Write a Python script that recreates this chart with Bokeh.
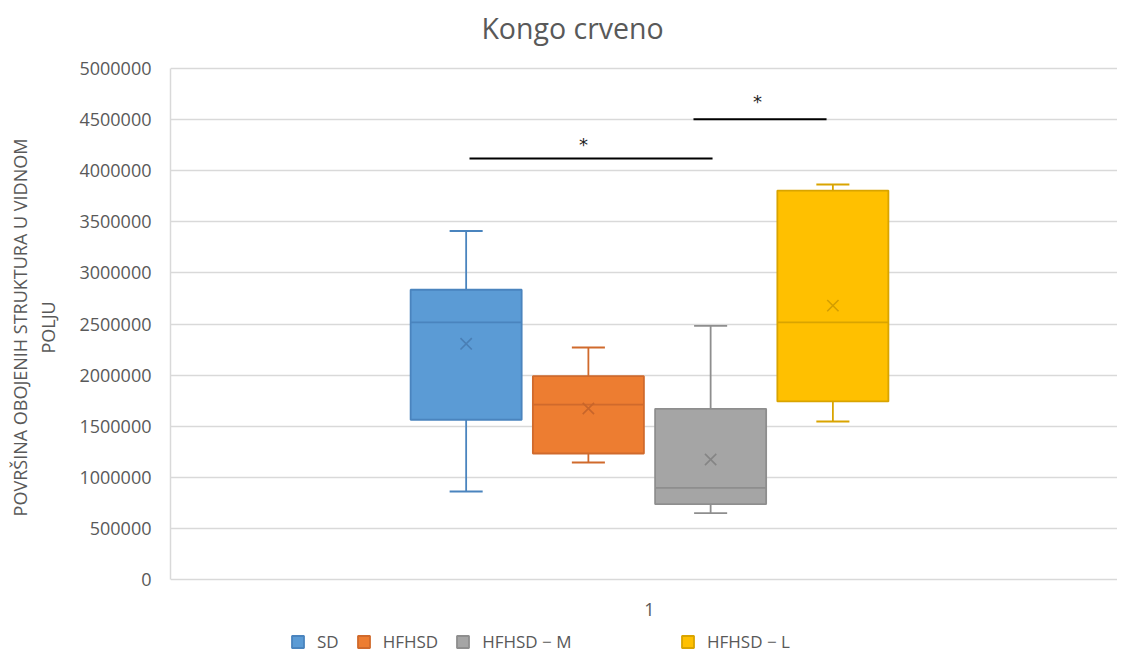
from bokeh.plotting import figure
from bokeh.models import (Range1d, FixedTicker, BasicTickFormatter, Legend,
                          LegendItem, ColumnDataSource)
from bokeh.embed import file_html
from bokeh.resources import INLINE
from bokeh.core.properties import value

# ---- data ----
title_text = ["Kongo crveno"]
groups = ["SD", "HFHSD", "HFHSD − M", "HFHSD − L"]
whisker_low = [861000, 1145000, 649000, 1546000]
q1 = [1563000, 1233000, 737000, 1742000]
median = [2515000, 1712000, 897000, 2515000]
q3 = [2835000, 1989000, 1670000, 3806000]
whisker_high = [3410000, 2270000, 2482000, 3865000]
mean = [2306000, 1673000, 1174000, 2680000]
category = ["1"]
y_ticks = [0, 500000, 1000000, 1500000, 2000000, 2500000, 3000000,
           3500000, 4000000, 4500000, 5000000]

# significance brackets and their stars
bracket_x0 = [0.8121, 1.0459]
bracket_x1 = [1.0658, 1.1848]
bracket_y = [4120000, 4504000]
star_x = [0.9311, 1.1127]
star_y = [4149000, 4570000]
star_text = ["*", "*"]

fill_colors = ["#5B9BD5", "#ED7D31", "#A5A5A5", "#FFC000"]
line_colors = ["#4A84BE", "#D06A2C", "#8E8E8E", "#D9A400"]
mean_colors = ["#4A7FB5", "#C8652A", "#858585", "#D39E00"]

FONT = "Open Sans"
GREY = "#595959"

# ---- layout constants (pixels) ----
W, H = 1117, 654
TOP, LEFT = 68, 170                # pixel row of the 5 000 000 line, left of the plot
ZERO_PX = 579                      # pixel row of value 0
px_per_val = (ZERO_PX - TOP) / y_ticks[-1]
y_min = -(H - ZERO_PX) / px_per_val
y_max = y_ticks[-1] + TOP / px_per_val
label_y = -29.5 / px_per_val       # category label just below the plot
title_y = y_ticks[-1] + (TOP - 27) / px_per_val
title_x = 0.5 + (572 - LEFT) / 958

box_w = 0.1159
cap_w = 0.0345
step = 0.1276
xc = [1 + (i - 1.5) * step for i in range(len(groups))]

src = ColumnDataSource(dict(
    x=xc, low=whisker_low, q1=q1, med=median, q3=q3, high=whisker_high,
    mean=mean, fill=fill_colors, line=line_colors, mcol=mean_colors,
    xl=[x - box_w / 2 for x in xc], xr=[x + box_w / 2 for x in xc],
    cl=[x - cap_w / 2 for x in xc], cr=[x + cap_w / 2 for x in xc],
))

p = figure(width=W, height=H, output_backend="svg", toolbar_location=None,
           x_range=Range1d(0.5, 1.4885), y_range=Range1d(y_min, y_max),
           x_axis_location=None,
           min_border_left=LEFT, min_border_right=0, min_border_top=0,
           min_border_bottom=0)
p.outline_line_color = None
p.background_fill_color = "white"
p.border_fill_color = "white"

# title (drawn as text at the top of the canvas)
p.text(x=[title_x], y=[title_y], text=title_text, text_align="center",
       text_baseline="alphabetic", text_font=value(FONT),
       text_font_size="28.5px", text_color=GREY)

# grid
p.xgrid.visible = False
p.ygrid.grid_line_color = "#D9D9D9"
p.ygrid.grid_line_width = 1.5

# y axis
p.yaxis.ticker = FixedTicker(ticks=y_ticks)
p.yaxis.bounds = (y_ticks[0], y_ticks[-1])
p.yaxis.formatter = BasicTickFormatter(use_scientific=False)
p.yaxis.axis_line_color = "#D9D9D9"
p.yaxis.axis_line_width = 1.5
p.yaxis.major_tick_line_color = None
p.yaxis.minor_tick_line_color = None
p.yaxis.major_label_text_font = FONT
p.yaxis.major_label_text_font_size = "18px"
p.yaxis.major_label_text_color = GREY
p.yaxis.major_label_standoff = 13
p.yaxis.axis_label = "POVRŠINA OBOJENIH STRUKTURA U VIDNOM\nPOLJU"
p.yaxis.axis_label_text_font = FONT
p.yaxis.axis_label_text_font_size = "18px"
p.yaxis.axis_label_text_font_style = "normal"
p.yaxis.axis_label_text_color = GREY
p.yaxis.axis_label_standoff = 16

# category label
p.text(x=[1.0], y=[label_y], text=category, text_align="center",
       text_baseline="middle", text_font=value(FONT), text_font_size="18px",
       text_color=GREY)

# whiskers
p.segment(x0="x", y0="q3", x1="x", y1="high", source=src, line_color="line", line_width=1.8)
p.segment(x0="x", y0="low", x1="x", y1="q1", source=src, line_color="line", line_width=1.8)
p.segment(x0="cl", y0="high", x1="cr", y1="high", source=src, line_color="line", line_width=1.8)
p.segment(x0="cl", y0="low", x1="cr", y1="low", source=src, line_color="line", line_width=1.8)

# boxes
boxes = p.vbar(x="x", width=box_w, bottom="q1", top="q3", source=src,
               fill_color="fill", line_color="line", line_width=1.8)
# median
p.segment(x0="xl", y0="med", x1="xr", y1="med", source=src, line_color="line", line_width=1.8)
# mean
p.scatter(x="x", y="mean", source=src, marker="x", size=16, line_color="mcol", line_width=1.6)

# significance
p.segment(x0=bracket_x0, y0=bracket_y, x1=bracket_x1, y1=bracket_y,
          line_color="black", line_width=2)
p.text(x=star_x, y=star_y, text=star_text, text_align="center",
       text_baseline="bottom", text_font=value("DejaVu Sans"),
       text_font_size="18px", text_color="#222222")

# legends
common = dict(orientation="horizontal", border_line_color=None,
              background_fill_alpha=0, padding=0, margin=0,
              glyph_width=15, glyph_height=15, label_height=15, label_width=0,
              label_text_font=FONT, label_text_font_size="17px",
              label_text_color=GREY, label_standoff=12, spacing=17)
leg1 = Legend(items=[LegendItem(label=groups[i], renderers=[boxes], index=i) for i in range(3)],
              location=(120, 1), **common)
leg2 = Legend(items=[LegendItem(label=groups[3], renderers=[boxes], index=3)],
              location=(510, 1), **common)
p.add_layout(leg1, "center")
p.add_layout(leg2, "center")

open("out.html", "w").write(file_html(p, INLINE))
